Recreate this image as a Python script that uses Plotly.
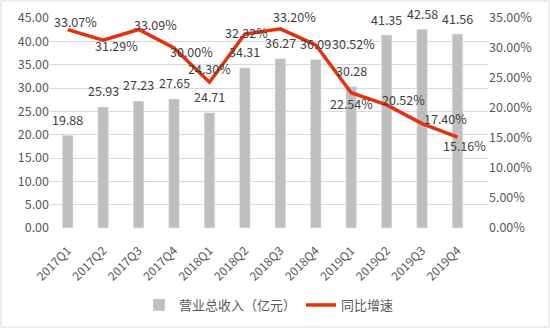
import plotly.graph_objects as go

quarters = ["2017Q1", "2017Q2", "2017Q3", "2017Q4", "2018Q1", "2018Q2",
            "2018Q3", "2018Q4", "2019Q1", "2019Q2", "2019Q3", "2019Q4"]
revenue = [19.88, 25.93, 27.23, 27.65, 24.71, 34.31, 36.27, 36.09, 30.28, 41.35, 42.58, 41.56]
growth = [0.3307, 0.3129, 0.3309, 0.3000, 0.2430, 0.3232, 0.3320, 0.3052, 0.2254, 0.2052, 0.1740, 0.1516]

# label offsets (pixels) for growth labels: (xshift, yshift)
growth_label_offsets = [(8, 8), (13, -5), (17, 5), (17, -3), (0, 14), (2, 2),
                        (14, 12), (38, 1), (0, -11), (17, 5), (23, 5), (7, -8)]

FONT = "Noto Sans CJK SC, Noto Sans, sans-serif"
TXT = "#404040"
TICK = "#595959"
GRID = "#d9d9d9"

fig = go.Figure()
fig.add_trace(go.Bar(x=quarters, y=revenue, name="营业总收入（亿元）",
                     marker=dict(color="#bfbfbf"), width=0.3, yaxis="y"))
fig.add_trace(go.Scatter(x=quarters, y=growth, name="同比增速", mode="lines",
                         line=dict(color="#E2330D", width=3.5), yaxis="y2"))

ann = []
for q, v in zip(quarters, revenue):
    ann.append(dict(x=q, y=v, xref="x", yref="y", text=f"{v:.2f}", showarrow=False,
                    yshift=16, font=dict(family=FONT, size=12.5, color=TXT)))
for q, g, (dx, dy) in zip(quarters, growth, growth_label_offsets):
    ann.append(dict(x=q, y=g, xref="x", yref="y2", text=f"{g*100:.2f}%", showarrow=False,
                    xshift=dx, yshift=dy, font=dict(family=FONT, size=12.5, color=TXT)))

L, R, T, B = 50, 62, 18, 100
W, H = 550, 328
pw, ph = W - L - R, H - T - B

fig.update_layout(
    width=W, height=H,
    margin=dict(l=L, r=R, t=T, b=B, pad=0, autoexpand=False),
    paper_bgcolor="white", plot_bgcolor="white",
    font=dict(family=FONT, size=12, color=TICK),
    bargap=0.7,
    xaxis=dict(tickangle=-45, showgrid=False, showline=False, ticks="outside", ticklen=10,
               tickcolor="rgba(0,0,0,0)", automargin=False,
               tickfont=dict(size=12, color=TICK)),
    yaxis=dict(range=[0, 45], dtick=5, tickformat=".2f", showgrid=True, gridcolor=GRID,
               gridwidth=1, zeroline=False, showline=False, ticks="", automargin=False,
               tickfont=dict(size=12.5, color=TICK)),
    yaxis2=dict(range=[0, 0.35], dtick=0.05, tickformat=".2%", overlaying="y", side="right",
                showgrid=False, zeroline=False, showline=False, ticks="", automargin=False,
                tickfont=dict(size=12.5, color=TICK)),
    legend=dict(orientation="h", x=0.5, xanchor="center", y=(228 - 305) / 210, yanchor="middle",
                font=dict(size=13, color=TICK)),
    annotations=ann,
    shapes=[dict(type="rect", xref="paper", yref="paper",
                 x0=(1 - L) / pw, x1=(W - 1 - L) / pw,
                 y0=(T + ph - (H - 1)) / ph, y1=(T + ph - 1) / ph,
                 line=dict(color=GRID, width=1), fillcolor="rgba(0,0,0,0)", layer="below")],
)

fig.write_html("out.html")
